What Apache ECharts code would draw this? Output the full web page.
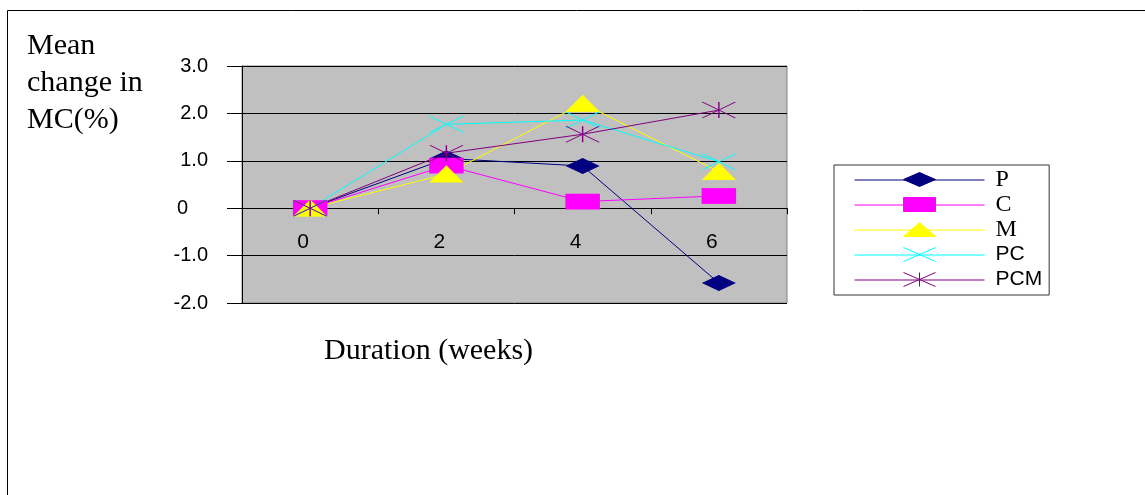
<!DOCTYPE html>
<html>
<head>
<meta charset="utf-8">
<script src="https://cdn.jsdelivr.net/npm/echarts@6/dist/echarts.min.js"></script>
<style>
  html, body { margin: 0; padding: 0; background: #ffffff; }
  #chart { width: 1145px; height: 495px; }
</style>
</head>
<body>
<div id="chart"></div>
<script>
// Duration of treatment, in weeks
const weeks = ['0', '2', '4', '6'];

// Mean change in moisture content (%) per treatment
const seriesP   = [0, 1.05, 0.89, -1.58];
const seriesC   = [0, 0.90, 0.14, 0.26];
const seriesM   = [0, 0.72, 2.21, 0.77];
const seriesPC  = [0, 1.77, 1.86, 0.98];
const seriesPCM = [0, 1.16, 1.56, 2.07];

const seriesNames = ['P', 'C', 'M', 'PC', 'PCM'];
const yMin = -2, yMax = 3, yStep = 1;

const colors = {
  P: '#000080',
  C: '#FF00FF',
  M: '#FFFF00',
  PC: '#00FFFF',
  PCM: '#800080'
};

// Marker shapes: wide, flat symbols
const markers = {
  P:   { symbol: 'diamond', size: [32, 15] },
  C:   { symbol: 'rect', size: [33, 15] },
  M:   { symbol: 'triangle', size: [32, 16] },
  PC:  { symbol: 'path://M0,0L32,16M0,16L32,0', size: [33, 16] },
  PCM: { symbol: 'path://M0,0L32,16M0,16L32,0M16,0L16,16', size: [33, 16] }
};

// Legend icons: a line sample with the marker in the middle (130 x 24 box)
const frame = 'M0,0M130,24M0,12.5L130,12.5';
const legendIcons = {
  P:   'path://' + frame + 'M49,12L65,5L81,12L65,19Z',
  C:   'path://' + frame + 'M49,5L81,5L81,19L49,19Z',
  M:   'path://' + frame + 'M65,5L81,19L49,19Z',
  PC:  'path://' + frame + 'M49,5L81,19M49,19L81,5',
  PCM: 'path://' + frame + 'M49,5L81,19M49,19L81,5M65,5L65,19'
};

const serif = "'Liberation Serif', 'Times New Roman', serif";
const sans = "'Liberation Sans', Arial, sans-serif";
const legendFonts = {
  P:   { fontFamily: serif, fontSize: 24 },
  C:   { fontFamily: serif, fontSize: 24 },
  M:   { fontFamily: serif, fontSize: 24 },
  PC:  { fontFamily: sans, fontSize: 21 },
  PCM: { fontFamily: sans, fontSize: 21 }
};

const values = { P: seriesP, C: seriesC, M: seriesM, PC: seriesPC, PCM: seriesPCM };

const chart = echarts.init(document.getElementById('chart'), null, { renderer: 'canvas' });

chart.setOption({
  animation: false,
  backgroundColor: '#ffffff',
  title: [
    {
      text: 'Mean\nchange in\nMC(%)',
      left: 27,
      top: 28,
      padding: 0,
      textStyle: { fontFamily: serif, fontSize: 30, fontWeight: 'normal', color: '#000', lineHeight: 37 }
    },
    {
      text: 'Duration (weeks)',
      left: 324,
      top: 336,
      padding: 0,
      textStyle: { fontFamily: serif, fontSize: 30, fontWeight: 'normal', color: '#000' }
    }
  ],
  graphic: [
    {
      type: 'rect',
      silent: true,
      shape: { x: 7.5, y: 10.5, width: 1200, height: 600 },
      style: { fill: 'none', stroke: '#000', lineWidth: 1 },
      z: -10
    }
  ],
  grid: {
    left: 242,
    top: 66,
    width: 545,
    height: 237,
    show: true,
    backgroundColor: '#C0C0C0',
    borderColor: '#808080',
    borderWidth: 1
  },
  legend: {
    orient: 'vertical',
    left: 834,
    top: 165,
    itemWidth: 130,
    itemHeight: 24,
    itemGap: 0,
    padding: [2, 7, 3, 20],
    borderColor: '#333',
    borderWidth: 1,
    backgroundColor: '#fff',
    selectedMode: false,
    textStyle: { color: '#000', padding: [0, 0, 0, 6] },
    data: seriesNames.map(n => ({
      name: n,
      icon: legendIcons[n],
      itemStyle: { color: colors[n], borderColor: colors[n], borderWidth: 1 },
      textStyle: Object.assign({ color: '#000', padding: [0, 0, 0, 6] }, legendFonts[n])
    }))
  },
  xAxis: {
    type: 'category',
    data: weeks,
    boundaryGap: true,
    axisLine: { onZero: true, lineStyle: { color: '#000', width: 1 } },
    axisTick: { show: true, length: 6, lineStyle: { color: '#000' } },
    axisLabel: {
      color: '#000',
      fontFamily: sans,
      fontSize: 21,
      margin: -71,
      padding: [0, 14, 0, 0]
    },
    splitLine: { show: false }
  },
  yAxis: {
    type: 'value',
    min: yMin,
    max: yMax,
    interval: yStep,
    axisLine: { show: true, lineStyle: { color: '#000', width: 1 } },
    axisTick: { show: true, length: 15, lineStyle: { color: '#000' } },
    axisLabel: {
      color: '#000',
      fontFamily: sans,
      fontSize: 20,
      margin: 34,
      formatter: v => (v === 0 ? '{z|0}' : v.toFixed(1)),
      rich: { z: { fontFamily: sans, fontSize: 20, color: '#000', padding: [0, 20, 0, 0] } }
    },
    splitLine: { show: true, lineStyle: { color: '#000', width: 1 } }
  },
  series: seriesNames.map(n => ({
    name: n,
    type: 'line',
    data: values[n],
    symbol: markers[n].symbol,
    symbolSize: markers[n].size,
    showAllSymbol: true,
    silent: true,
    lineStyle: { color: colors[n], width: 1 },
    itemStyle: { color: colors[n], borderColor: colors[n], borderWidth: 1 },
    emphasis: { disabled: true }
  }))
});
</script>
</body>
</html>
